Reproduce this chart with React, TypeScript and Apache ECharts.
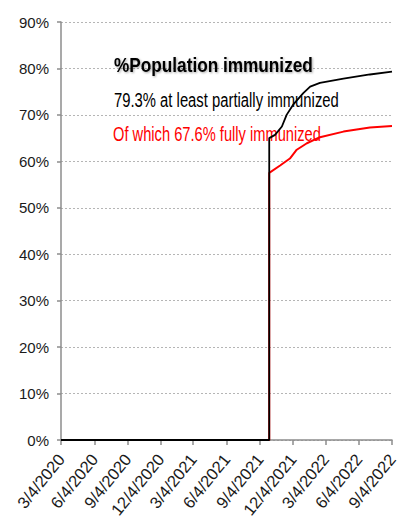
import React, { useEffect, useRef } from "react";
import * as echarts from "echarts";

const tickLabels = ["3/4/2020", "6/4/2020", "9/4/2020", "12/4/2020", "3/4/2021", "6/4/2021", "9/4/2021", "12/4/2021", "3/4/2022", "6/4/2022", "9/4/2022"];

const partialDates = ["3/4/2020", "9/30/2021", "9/30/2021", "10/16/2021", "11/4/2021", "11/17/2021", "12/5/2021", "1/2/2022", "1/21/2022", "2/17/2022", "4/23/2022", "7/5/2022", "9/4/2022"];
const partialValues = [0, 0, 65.0, 65.7, 67.5, 70.0, 72.2, 74.7, 76.1, 76.9, 77.8, 78.7, 79.3];

const fullDates = ["3/4/2020", "9/30/2021", "9/30/2021", "10/30/2021", "11/26/2021", "12/15/2021", "1/12/2022", "2/17/2022", "4/23/2022", "7/5/2022", "9/4/2022"];
const fullValues = [0, 0, 57.5, 59.1, 60.6, 62.5, 63.9, 65.2, 66.4, 67.3, 67.6];

const yTicks = [0, 10, 20, 30, 40, 50, 60, 70, 80, 90];

const titleText = "%Population immunized";
const line2Text = "79.3% at least partially immunized";
const line3Text = "Of which 67.6% fully immunized";

const FONT = "'Liberation Sans', Arial, sans-serif";

const DAY = 86400000;
function dayNum(s: string): number {
  const [m, d, y] = s.split("/").map(Number);
  return Math.round(Date.UTC(y, m - 1, d) / DAY);
}

function fmt(v: number): string {
  const dt = new Date(Math.round(v) * DAY);
  return `${dt.getUTCMonth() + 1}/${dt.getUTCDate()}/${dt.getUTCFullYear()}`;
}

function squeeze(text: string, font: string, target: number): number {
  const c = document.createElement("canvas").getContext("2d");
  if (!c) return 0.8;
  c.font = font;
  const w = c.measureText(text).width;
  return w > 0 ? target / w : 0.8;
}

export default function App() {
  const ref = useRef<HTMLDivElement>(null);
  useEffect(() => {
    if (!ref.current) return;
    const chart = echarts.init(ref.current, null, { renderer: "svg" });
    const tickDays = tickLabels.map(dayNum);
    const sTitle = squeeze(titleText, "bold 21px 'Liberation Sans'", 199);
    const s2 = squeeze(line2Text, "20px 'Liberation Sans'", 225);
    const s3 = squeeze(line3Text, "20px 'Liberation Sans'", 208);
    chart.setOption({
      animation: false,
      backgroundColor: "#ffffff",
      grid: { left: 61, right: 18, top: 22, bottom: 81, outerBoundsMode: "none", containLabel: false },
      xAxis: {
        type: "value",
        min: tickDays[0],
        max: tickDays[tickDays.length - 1],
        axisLine: { show: true, onZero: false, lineStyle: { color: "#8c8c8c", width: 1.5 } },
        axisTick: { show: true, length: 5, lineStyle: { color: "#8c8c8c", width: 1.5 }, customValues: tickDays },
        axisLabel: {
          customValues: tickDays,
          formatter: (v: number) => fmt(v),
          rotate: 51,
          margin: 16,
          fontSize: 16.5,
          color: "#1a1a1a",
          fontFamily: FONT,
        },
        splitLine: { show: false },
      },
      yAxis: {
        type: "value",
        min: yTicks[0],
        max: yTicks[yTicks.length - 1],
        interval: 10,
        axisLine: { show: true, lineStyle: { color: "#8c8c8c", width: 1.5 } },
        axisTick: { show: true, length: 4, lineStyle: { color: "#8c8c8c", width: 1.5 } },
        axisLabel: { formatter: "{value}%", fontSize: 15, color: "#1a1a1a", fontFamily: FONT, margin: 12 },
        splitLine: { show: true, lineStyle: { color: "#b5b5b5", type: [2, 2], width: 1 } },
      },
      series: [
        {
          name: "fully",
          type: "line",
          showSymbol: false,
          data: fullDates.map((d, i) => [dayNum(d), fullValues[i]]),
          lineStyle: { color: "#ff0000", width: 2 },
          itemStyle: { color: "#ff0000" },
          z: 2,
        },
        {
          name: "partial",
          type: "line",
          showSymbol: false,
          data: partialDates.map((d, i) => [dayNum(d), partialValues[i]]),
          lineStyle: { color: "#000000", width: 1.8 },
          itemStyle: { color: "#000000" },
          z: 3,
        },
      ],
      graphic: [
        {
          type: "text",
          x: 114,
          y: 65,
          scaleX: sTitle,
          style: {
            text: titleText,
            fontSize: 21,
            fontWeight: "bold",
            fontFamily: "'Liberation Sans'",
            fill: "#000",
            textVerticalAlign: "middle",
            textShadowColor: "rgba(0,0,0,0.35)",
            textShadowBlur: 2,
            textShadowOffsetX: 1,
            textShadowOffsetY: 1,
          },
          z: 10,
        },
        {
          type: "text",
          x: 114,
          y: 100,
          scaleX: s2,
          style: { text: line2Text, fontSize: 20, fontFamily: "'Liberation Sans'", fill: "#000", textVerticalAlign: "middle" },
          z: 10,
        },
        {
          type: "text",
          x: 113,
          y: 134.5,
          scaleX: s3,
          style: { text: line3Text, fontSize: 20, fontFamily: "'Liberation Sans'", fill: "#ff0000", textVerticalAlign: "middle" },
          z: 1,
        },
      ],
    });
    return () => chart.dispose();
  }, []);
  return <div ref={ref} style={{ position: "fixed", left: 0, top: 0, width: 410, height: 521 }} />;
}
